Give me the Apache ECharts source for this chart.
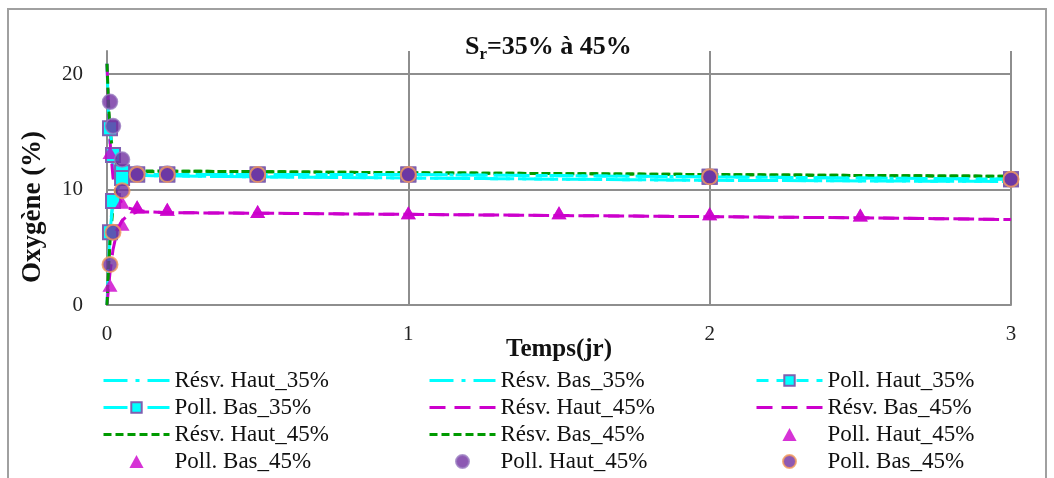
<!DOCTYPE html>
<html><head><meta charset="utf-8">
<script src="https://cdn.jsdelivr.net/npm/echarts@6/dist/echarts.min.js"></script>
<style>html,body{margin:0;padding:0;background:#fff}#c{width:1054px;height:478px}</style>
</head><body><div id="c"></div>
<script>
// ---- data ----
const tRes = [0, 0.005, 0.01, 0.02, 0.03, 0.04, 0.05, 0.07, 0.1, 0.15, 0.2, 0.3, 0.5, 0.75, 1, 1.25, 1.5, 1.75, 2, 2.25, 2.5, 2.75, 3];
const resvHaut35 = [20.9, 16.5, 14.0, 12.0, 11.5, 11.4, 11.35, 11.3, 11.25, 11.2, 11.2, 11.15, 11.1, 11.05, 11.0, 10.95, 10.9, 10.85, 10.8, 10.78, 10.75, 10.72, 10.7];
const resvBas35 = [0, 3.5, 6.5, 9.2, 10.5, 11.0, 11.2, 11.25, 11.25, 11.2, 11.2, 11.15, 11.1, 11.05, 11.0, 10.95, 10.9, 10.85, 10.8, 10.78, 10.75, 10.72, 10.7];
const resvHaut45m = [20.9, 17.0, 14.2, 11.0, 9.9, 9.2, 8.8, 8.4, 8.2, 8.05, 8.0, 7.98, 7.95, 7.9, 7.85, 7.8, 7.75, 7.7, 7.65, 7.6, 7.55, 7.48, 7.4];
const resvBas45m = [0, 1.5, 2.8, 4.8, 6.0, 6.8, 7.3, 7.8, 8.05, 8.05, 8.0, 7.98, 7.95, 7.9, 7.85, 7.8, 7.75, 7.7, 7.65, 7.6, 7.55, 7.48, 7.4];
const resvHaut45g = [20.9, 17.5, 15.2, 13.0, 12.3, 12.0, 11.8, 11.7, 11.6, 11.6, 11.6, 11.58, 11.55, 11.5, 11.45, 11.42, 11.38, 11.34, 11.3, 11.26, 11.22, 11.18, 11.15];
const resvBas45g = [0, 3.0, 5.5, 8.5, 10.0, 10.8, 11.2, 11.4, 11.5, 11.55, 11.6, 11.58, 11.55, 11.5, 11.45, 11.42, 11.38, 11.34, 11.3, 11.26, 11.22, 11.18, 11.15];

const tPoll = [0.01, 0.02, 0.05, 0.1, 0.2, 0.5, 1, 2, 3];
const pollHaut35 = [15.3, 13.0, 11.5, 11.3, 11.3, 11.3, 11.3, 11.1, 10.9];
const pollBas35 = [6.3, 9.0, 11.0, 11.3, 11.3, 11.3, 11.3, 11.1, 10.9];
const pollHaut45c = [17.6, 15.5, 12.6, 11.4, 11.4, 11.3, 11.3, 11.1, 10.9];
const pollBas45c = [3.5, 6.3, 9.9, 11.3, 11.3, 11.3, 11.3, 11.1, 10.9];

const tTri = [0.01, 0.05, 0.1, 0.2, 0.5, 1, 1.5, 2, 2.5];
const pollHaut45t = [13.2, 8.9, 8.5, 8.3, 8.1, 8.0, 8.0, 7.9, 7.8];
const pollBas45t = [1.7, 7.0, 8.5, 8.3, 8.1, 8.0, 8.0, 7.9, 7.8];

const xTicks = { min: 0, max: 3, interval: 1 };
const yTicks = { min: 0, max: 22, interval: 10 };

// ---- names (trailing space keeps duplicate labels distinct) ----
const N = {
  rh35: 'Résv. Haut_35%', rb35: 'Résv. Bas_35%', ph35: 'Poll. Haut_35%', pb35: 'Poll. Bas_35%',
  rh45m: 'Résv. Haut_45%', rb45m: 'Résv. Bas_45%', rh45g: 'Résv. Haut_45% ', rb45g: 'Résv. Bas_45% ',
  ph45t: 'Poll. Haut_45%', pb45t: 'Poll. Bas_45%', ph45c: 'Poll. Haut_45% ', pb45c: 'Poll. Bas_45% '
};

const zip = (xs, ys) => xs.map((x, i) => [x, ys[i]]);
const FONT = 'Liberation Serif';
const CYAN = '#00ffff', MAG = '#cc00cc', GREEN = '#009a00', PURP = '#7030a0';

function lineS(name, xs, ys, color, dash, z) {
  return { name, type: 'line', data: zip(xs, ys), symbol: 'none', z,
    lineStyle: { color, width: 3, type: dash }, itemStyle: { color } };
}
const series = [
  lineS(N.rh35, tRes, resvHaut35, CYAN, [24, 8, 4, 8], 2),
  lineS(N.rb35, tRes, resvBas35, CYAN, [24, 8, 4, 8], 2),
  lineS(N.rh45m, tRes, resvHaut45m, MAG, [16, 9], 3),
  lineS(N.rb45m, tRes, resvBas45m, MAG, [16, 9], 3),
  lineS(N.rh45g, tRes, resvHaut45g, GREEN, [8, 4], 4),
  lineS(N.rb45g, tRes, resvBas45g, GREEN, [8, 4], 4),
  { name: N.ph35, type: 'line', data: zip(tPoll, pollHaut35), symbol: 'rect', symbolSize: 14, z: 5,
    lineStyle: { color: CYAN, width: 3, type: [12, 8] },
    itemStyle: { color: CYAN, borderColor: '#7f5fb0', borderWidth: 2 } },
  { name: N.pb35, type: 'line', data: zip(tPoll, pollBas35), symbol: 'rect', symbolSize: 14, z: 5,
    lineStyle: { color: CYAN, width: 3, type: [24, 8, 4, 8] },
    itemStyle: { color: CYAN, borderColor: '#7f5fb0', borderWidth: 2 } },
  { name: N.ph45t, type: 'scatter', data: zip(tTri, pollHaut45t), symbol: 'triangle', symbolSize: [15, 13], z: 6,
    itemStyle: { color: MAG } },
  { name: N.pb45t, type: 'scatter', data: zip(tTri, pollBas45t), symbol: 'triangle', symbolSize: [15, 13], z: 6,
    itemStyle: { color: MAG } },
  { name: N.ph45c, type: 'scatter', data: zip(tPoll, pollHaut45c), symbol: 'circle', symbolSize: 15, z: 7,
    itemStyle: { color: PURP, borderColor: '#9a7cc0', borderWidth: 1.5 } },
  { name: N.pb45c, type: 'scatter', data: zip(tPoll, pollBas45c), symbol: 'circle', symbolSize: 15, z: 8,
    itemStyle: { color: PURP, borderColor: '#f29a5a', borderWidth: 2 } }
];

const lineOnly = new Set([N.rh35, N.rb35, N.rh45m, N.rb45m, N.rh45g, N.rb45g]);
const triNames = new Set([N.ph45t, N.pb45t]);
const TRI_ICON = 'path://M6,0L12,11L0,11Z';
function legendItem(n) {
  if (lineOnly.has(n)) return { name: n, itemStyle: { opacity: 0 } };
  if (triNames.has(n)) return { name: n, icon: TRI_ICON };
  return { name: n };
}
function legendCol(names, left) {
  return {
    orient: 'vertical', left, top: 369, padding: 0, itemGap: 4, itemWidth: 66, itemHeight: 13,
    selectedMode: false, symbolKeepAspect: true,
    textStyle: { fontFamily: FONT, fontSize: 23, color: '#111' },
    lineStyle: { width: 3 },
    data: names.map(legendItem)
  };
}

const chart = echarts.init(document.getElementById('c'));
chart.setOption({
  animation: false,
  backgroundColor: '#fff',
  title: {
    text: '{a|S}{b|r}{a|=35% à 45%}', left: 460, top: 29,
    textStyle: { rich: {
      a: { fontFamily: FONT, fontSize: 26, fontWeight: 'bold', color: '#111', verticalAlign: 'top', lineHeight: 28 },
      b: { fontFamily: FONT, fontSize: 17, fontWeight: 'bold', color: '#111', verticalAlign: 'top', lineHeight: 17, padding: [12, 0, 0, 0] }
    } }
  },
  grid: { left: 107, right: 43, top: 51, bottom: 173, outerBoundsMode: 'none' },
  xAxis: {
    type: 'value', min: xTicks.min, max: xTicks.max, interval: xTicks.interval,
    name: 'Temps(jr)', nameLocation: 'middle', nameGap: 32, nameMoveOverlap: false,
    nameTextStyle: { fontFamily: FONT, fontSize: 25, fontWeight: 'bold', color: '#111' },
    axisLine: { lineStyle: { color: '#8e8e8e', width: 2 } },
    axisTick: { show: false },
    axisLabel: { fontFamily: FONT, fontSize: 21, color: '#222', margin: 19 },
    splitLine: { show: true, lineStyle: { color: '#8e8e8e', width: 2 } }
  },
  yAxis: {
    type: 'value', min: yTicks.min, max: yTicks.max, interval: yTicks.interval,
    name: 'Oxygène (%)', nameLocation: 'middle', nameGap: 60, nameRotate: 90, nameMoveOverlap: false,
    nameTextStyle: { fontFamily: FONT, fontSize: 27, fontWeight: 'bold', color: '#111', padding: [0, 58, 0, 0] },
    axisLine: { show: true, lineStyle: { color: '#8e8e8e', width: 2 } },
    axisTick: { show: false },
    axisLabel: { fontFamily: FONT, fontSize: 21, color: '#222', margin: 24, showMaxLabel: false },
    splitLine: { show: true, showMaxLine: false, lineStyle: { color: '#8e8e8e', width: 2 } }
  },
  legend: [
    legendCol([N.rh35, N.pb35, N.rh45g, N.pb45t], 102),
    legendCol([N.rb35, N.rh45m, N.rb45g, N.ph45c], 428),
    legendCol([N.ph35, N.rb45m, N.ph45t, N.pb45c], 755)
  ],
  graphic: [{ type: 'rect', silent: true, z: -10,
    shape: { x: 8, y: 9, width: 1038, height: 520 },
    style: { fill: null, stroke: '#a0a0a0', lineWidth: 2 } }],
  series
});
</script></body></html>
